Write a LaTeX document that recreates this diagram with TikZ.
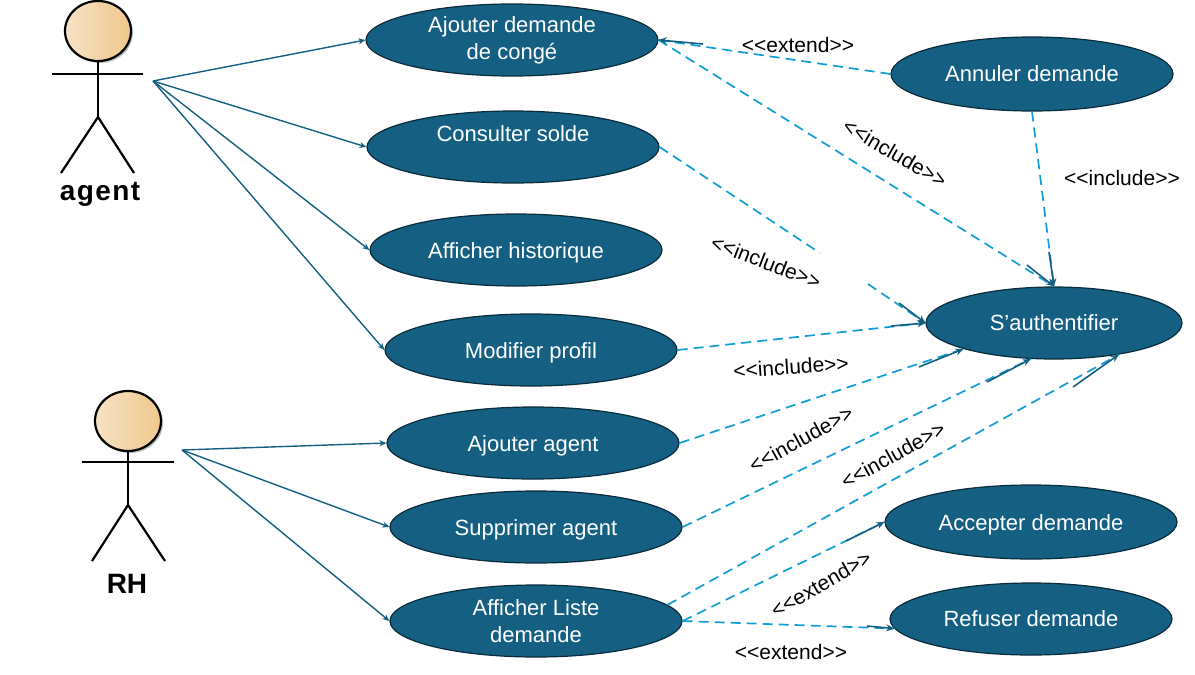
\documentclass[tikz,border=0pt]{standalone}
\usepackage{fontspec}
\setmainfont{Liberation Sans}
\usetikzlibrary{shapes.geometric,arrows.meta}
\definecolor{casefill}{HTML}{156082}
\definecolor{depline}{HTML}{0F9ED5}
\definecolor{headleft}{HTML}{F7E2C6}
\definecolor{headright}{HTML}{EFC88C}
\tikzset{
	flatcase/.style={ellipse,draw=casefill!45!black,fill=casefill,line width=1.2pt,text=white,inner sep=0pt,align=center,font=\fontsize{22}{27}\selectfont},
	usecase/.style={flatcase,execute at begin node=\rule{0pt}{21pt}},
	assoc/.style={casefill,line width=1.4pt,-{Stealth[length=7pt,width=6pt]}},
	dep/.style={depline,line width=1.7pt,dash pattern=on 10pt off 6pt},
	tip/.style={casefill,line width=1.6pt,-{Stealth[length=8pt,width=7pt]}},
	limb/.style={black,line width=2.2pt},
	head/.style={ellipse,draw=black,line width=2.2pt,left color=headleft,right color=headright,minimum width=66pt,minimum height=60pt,inner sep=0pt},
	actorname/.style={font=\fontsize{28}{30}\selectfont\bfseries},
	stereo/.style={black,inner sep=0pt,font=\fontsize{21}{25}\selectfont}
}
\begin{document}
\begin{tikzpicture}[x=1pt,y=-1pt]
	\useasboundingbox (0,0) rectangle (1195,675);
	\fill[black!25] (100,33) ellipse (33 and 30);
	\fill[black!25] (130,423) ellipse (33 and 30);

	\node[head] (agenthead) at (98,31) {};
	\coordinate (agentneck) at (98,117);
	\coordinate (agentleft) at (52,74);
	\coordinate (agentright) at (143,74);
	\coordinate (agentfootl) at (61,173);
	\coordinate (agentfootr) at (134,173);
	\coordinate (agentfrom) at (153,81);
	\draw[limb] (agenthead) -- (agentneck);
	\draw[limb] (agentleft) -- (agentright);
	\draw[limb] (agentfootl) -- (agentneck) -- (agentfootr);
	\node[actorname] (agent) at (100,194) {\addfontfeature{LetterSpace=5}agent};

	\node[head] (rhhead) at (128,421) {};
	\coordinate (rhneck) at (128,505);
	\coordinate (rhleft) at (82,462);
	\coordinate (rhright) at (174,462);
	\coordinate (rhfootl) at (92,561);
	\coordinate (rhfootr) at (165,561);
	\coordinate (rhfrom) at (182,450);
	\draw[limb] (rhhead) -- (rhneck);
	\draw[limb] (rhleft) -- (rhright);
	\draw[limb] (rhfootl) -- (rhneck) -- (rhfootr);
	\node[actorname] (rh) at (127,584) {RH};

	\node[usecase,minimum width=292pt,minimum height=72pt] (ajouter) at (512,40) {Ajouter demande\\de congé};
	\node[usecase,minimum width=292pt,minimum height=72pt] (solde) at (513,147) {};
	\node[usecase,minimum width=292pt,minimum height=72pt] (historique) at (516,250) {Afficher historique};
	\node[usecase,minimum width=292pt,minimum height=72pt] (profil) at (531,350) {Modifier profil};
	\node[usecase,minimum width=292pt,minimum height=72pt] (ajoutagent) at (533,443) {Ajouter agent};
	\node[usecase,minimum width=292pt,minimum height=72pt] (supprimer) at (536,527) {Supprimer agent};
	\node[usecase,minimum width=292pt,minimum height=72pt] (liste) at (536,621) {Afficher Liste\\demande};
	\node[flatcase,minimum width=282pt,minimum height=74pt] (annuler) at (1032,74) {Annuler demande};
	\node[flatcase,minimum width=256pt,minimum height=72pt] (auth) at (1054,323) {S’authentifier};
	\node[usecase,minimum width=292pt,minimum height=74pt] (accepter) at (1031,522) {Accepter demande};
	\node[flatcase,minimum width=282pt,minimum height=72pt] (refuser) at (1031,619) {Refuser demande};
	\node[text=white,font=\fontsize{22}{27}\selectfont,inner sep=0pt] (soldetext) at (513,134) {Consulter solde};

	\draw[assoc] (agentfrom) -- (ajouter.west);
	\draw[assoc] (agentfrom) -- (solde.west);
	\draw[assoc] (agentfrom) -- (historique.west);
	\draw[assoc] (agentfrom) -- (profil.west);
	\draw[assoc] (rhfrom) -- (ajoutagent.west);
	\draw[assoc] (rhfrom) -- (supprimer.west);
	\draw[assoc] (rhfrom) -- (liste.west);

	\coordinate (soldegap) at (820,253);
	\coordinate (soldeback) at (868,284);
	\draw[dep] (annuler.west) -- (ajouter.east);
	\draw[dep] (ajouter.east) -- (auth.north);
	\draw[dep] (annuler.south) -- (auth.north);
	\draw[dep] (solde.east) -- (soldegap);
	\draw[dep] (soldeback) -- (auth.west);
	\draw[dep] (profil.east) -- (auth.west);
	\draw[dep] (ajoutagent.east) -- (auth.196);
	\draw[dep] (supprimer.east) -- (auth.237);
	\draw[dep] (liste.7) -- (auth.334);
	\draw[dep] (liste.east) -- (accepter.west);
	\draw[dep] (liste.east) -- (refuser.184);

	\coordinate (tipa) at (703,44);
	\coordinate (tipb) at (1027,265);
	\coordinate (tipc) at (1049,252);
	\coordinate (tipd) at (899,303);
	\coordinate (tipe) at (891,326);
	\coordinate (tipf) at (919,367);
	\coordinate (tipg) at (987,382);
	\coordinate (tiph) at (1073,387);
	\coordinate (tipi) at (846,541);
	\coordinate (tipj) at (867,626);
	\draw[tip] (tipa) -- (ajouter.east);
	\draw[tip] (tipb) -- (auth.north);
	\draw[tip] (tipc) -- (auth.north);
	\draw[tip] (tipd) -- (auth.west);
	\draw[tip] (tipe) -- (auth.west);
	\draw[tip] (tipf) -- (auth.196);
	\draw[tip] (tipg) -- (auth.237);
	\draw[tip] (tiph) -- (auth.334);
	\draw[tip] (tipi) -- (accepter.west);
	\draw[tip] (tipj) -- (refuser.184);

	\node[stereo] (extenda) at (798,45) {<{}<extend>{}>};
	\node[stereo,rotate=-30] (includea) at (895,153) {<{}<include>{}>};
	\node[stereo] (includeb) at (1122,178) {<{}<include>{}>};
	\node[stereo,rotate=-21] (includec) at (766,262) {<{}<include>{}>};
	\node[stereo,rotate=4] (included) at (791,367) {<{}<include>{}>};
	\node[stereo,rotate=29] (includee) at (801,439) {<{}<include>{}>};
	\node[stereo,rotate=29] (includef) at (893,455) {<{}<include>{}>};
	\node[stereo,rotate=30] (extendb) at (821,584) {<{}<extend>{}>};
	\node[stereo] (extendc) at (791,652) {<{}<extend>{}>};
\end{tikzpicture}
\end{document}
